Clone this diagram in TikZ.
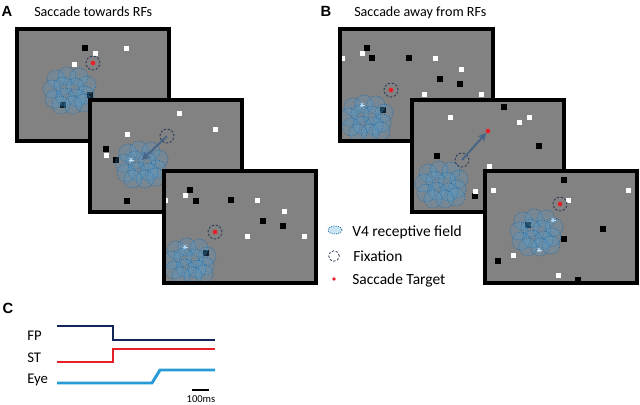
\documentclass[tikz,border=0pt]{standalone}
\usepackage{fontspec}
\setmainfont{Carlito}
\newfontfamily\panelfont{Liberation Sans}
\usetikzlibrary{arrows.meta}

\definecolor{screengray}{RGB}{130,130,130}
\definecolor{rfblue}{RGB}{30,105,165}
\definecolor{rflight}{RGB}{80,160,215}
\definecolor{rfkeyfill}{RGB}{200,228,245}
\definecolor{fixgray}{RGB}{50,62,92}
\definecolor{targetred}{RGB}{232,30,40}
\definecolor{arrowblue}{RGB}{72,100,135}
\definecolor{starcol}{RGB}{185,225,250}
\definecolor{fpnavy}{RGB}{18,38,92}
\definecolor{eyeblue}{RGB}{40,155,215}

\tikzset{
  screen/.style={fill=screengray},
  screenframe/.style={draw=black, line width=2.9pt},
  rf/.style={draw=rfblue, densely dotted, line width=0.5pt, fill=rflight, fill opacity=0.22},
  fixation/.style={circle, draw=fixgray, dash pattern=on 1.6pt off 1.2pt, line width=0.7pt, minimum size=9.9pt, inner sep=0pt},
  target/.style={circle, fill=targetred, minimum size=3.3pt, inner sep=0pt},
  saccade/.style={draw=arrowblue, line width=1.4pt, -{Stealth[length=6pt,width=6pt]}},
  trace/.style={line width=2.1pt},
  paneltitle/.style={font=\fontsize{10}{12}\selectfont, anchor=base west, inner sep=0pt},
  panellabel/.style={font=\panelfont\bfseries\fontsize{10.5}{12}\selectfont, anchor=base, inner sep=0pt},
  keytext/.style={font=\fontsize{11}{13}\selectfont, anchor=base west, inner sep=0pt},
  tracelabel/.style={font=\fontsize{10.5}{12}\selectfont, anchor=base west, inner sep=0pt},
}

% cluster of V4 receptive fields
\newcommand{\rfpatch}[2]{%
  \foreach \dx/\dy in {-14/-10,-3/-13,9/-12,17/-4,-18/0,-7/-3,5/-2,15/6,-16/10,-5/8,7/9,-9/16,3/16,14/14}
    \draw[rf] ({#1+\dx},{#2+\dy}) circle (9);
}
% small marks inside the cluster
\newcommand{\rfstar}[2]{%
  \foreach \a in {0,60,120}
    \draw[starcol, line width=0.5pt] (#1,#2) ++(\a:2.5) -- ++(\a+180:5);
}

\begin{document}
\begin{tikzpicture}[x=0.025cm, y=-0.025cm]
\useasboundingbox (0,0) rectangle (640,404);

% Panel titles
\node[panellabel] (labA) at (7,16) {A};
\node[paneltitle] (titA) at (34,16) {Saccade towards RFs};
\node[panellabel] (labB) at (326,16) {B};
\node[paneltitle] (titB) at (354,16) {Saccade away from RFs};

% Screen A1
\fill[screen] (17,29) rectangle (169,141);
\foreach \x/\y in {85/48,90/95,63/105}
  \fill (\x,\y) ++(-2.7,-2.7) rectangle ++(5.4,5.4);
\foreach \x/\y in {95/53,126/48,74/64}
  \fill[white] (\x,\y) ++(-2.5,-2.5) rectangle ++(5,5);
\rfpatch{70}{89}
\node[fixation] (fixA1) at (93,63) {};
\node[target] (tgtA1) at (93,63) {};
\draw[screenframe] (17,29) rectangle (169,141);

% Screen A2
\fill[screen] (90,100) rectangle (242,212);
\foreach \x/\y in {106/149,116/160,127/201}
  \fill (\x,\y) ++(-2.7,-2.7) rectangle ++(5.4,5.4);
\foreach \x/\y in {179/113,215/129,127/134,106/155}
  \fill[white] (\x,\y) ++(-2.5,-2.5) rectangle ++(5,5);
\rfpatch{142}{163}
\rfstar{131}{160}
\node[fixation] (fixA2) at (167,136) {};
\coordinate (rfA2) at (142,160);
\draw[saccade] (fixA2.center) -- (rfA2);
\draw[screenframe] (90,100) rectangle (242,212);

% Screen A3
\fill[screen] (164,171) rectangle (316,283);
\foreach \x/\y in {190/190,196/201,231/200,263/221,283/226,206/253}
  \fill (\x,\y) ++(-2.7,-2.7) rectangle ++(5.4,5.4);
\foreach \x/\y in {185/195,257/200,284/211,247/236,304/236,165/200}
  \fill[white] (\x,\y) ++(-2.5,-2.5) rectangle ++(5,5);
\rfpatch{190}{260}
\rfstar{185}{247}
\node[fixation] (fixA3) at (215,232) {};
\node[target] (tgtA3) at (215,232) {};
\draw[screenframe] (164,171) rectangle (316,283);

% Screen B1
\fill[screen] (340,29) rectangle (493,141);
\foreach \x/\y in {367/48,372/58,409/58,440/79,460/84,383/110}
  \fill (\x,\y) ++(-2.7,-2.7) rectangle ++(5.4,5.4);
\foreach \x/\y in {362/53,435/58,461/69,424/94,481/94,342/58}
  \fill[white] (\x,\y) ++(-2.5,-2.5) rectangle ++(5,5);
\rfpatch{367}{117}
\rfstar{362}{105}
\node[fixation] (fixB1) at (391,90) {};
\node[target] (tgtB1) at (391,90) {};
\draw[screenframe] (340,29) rectangle (493,141);

% Screen B2
\fill[screen] (412,100) rectangle (564,212);
\foreach \x/\y in {504/107,539/146,437/156,475/196}
  \fill (\x,\y) ++(-2.7,-2.7) rectangle ++(5.4,5.4);
\foreach \x/\y in {450/117,519/122,529/117,489/166,475/191}
  \fill[white] (\x,\y) ++(-2.5,-2.5) rectangle ++(5,5);
\rfpatch{442}{183}
\node[fixation] (fixB2) at (462,160) {};
\node[target] (tgtB2) at (488,131) {};
\draw[saccade] (fixB2.center) -- (tgtB2);
\draw[screenframe] (412,100) rectangle (564,212);

% Screen B3
\fill[screen] (485,171) rectangle (637,283);
\foreach \x/\y in {564/180,528/225,564/239,603/229,498/261,578/280}
  \fill (\x,\y) ++(-2.7,-2.7) rectangle ++(5.4,5.4);
\foreach \x/\y in {493/190,628/190,568/200,513/255,558/275}
  \fill[white] (\x,\y) ++(-2.5,-2.5) rectangle ++(5,5);
\rfpatch{537}{231}
\rfstar{553}{220}
\rfstar{539}{250}
\node[fixation] (fixB3) at (560,204) {};
\node[target] (tgtB3) at (560,204) {};
\draw[screenframe] (485,171) rectangle (637,283);

% Legend
\draw[draw=rfblue, densely dotted, line width=0.6pt, fill=rfkeyfill] (335,230) ellipse (7 and 4);
\node[keytext] (keyrf) at (352,236) {V4 receptive field};
\node[fixation, minimum size=7.5pt, line width=0.6pt] (keyfix) at (334,256) {};
\node[keytext] (keyfixt) at (353,261) {Fixation};
\node[target, minimum size=2.6pt] (keytgt) at (334,279) {};
\node[keytext] (keytgtt) at (352,284) {Saccade Target};

% Panel C: time courses
\node[panellabel] (labC) at (8,313) {C};
\node[tracelabel] (fp) at (27,340) {FP};
\node[tracelabel] (st) at (27,362) {ST};
\node[tracelabel] (eye) at (27,383) {Eye};
\draw[trace, fpnavy] (57,326) -- (113,326) -- (113,340) -- (215,340);
\draw[trace, targetred] (57,362) -- (113,362) -- (113,349) -- (215,349);
\draw[trace, eyeblue] (57,383) -- (152,383) -- (160,370) -- (215,370);

% Scale bar
\draw[line width=1.5pt] (192,390) -- (209,390);
\node[font=\fontsize{7.5}{9}\selectfont, anchor=base, inner sep=0pt] (scale) at (201,402) {100ms};

\end{tikzpicture}
\end{document}
